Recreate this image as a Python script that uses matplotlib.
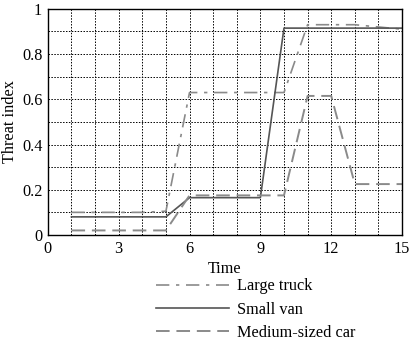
import matplotlib.pyplot as plt

plt.rcParams['font.family'] = ['Liberation Serif', 'DejaVu Serif']

time = list(range(1, 16))
large_truck = [0.10, 0.10, 0.10, 0.10, 0.105, 0.63, 0.63, 0.63, 0.63, 0.63, 0.93, 0.93, 0.93, 0.92, 0.91]
small_van = [0.08, 0.08, 0.08, 0.08, 0.08, 0.165, 0.165, 0.165, 0.165, 0.915, 0.915, 0.915, 0.915, 0.915, 0.915]
medium_car = [0.02, 0.02, 0.02, 0.02, 0.02, 0.175, 0.175, 0.175, 0.175, 0.175, 0.615, 0.615, 0.225, 0.225, 0.225]

fig = plt.figure(figsize=(4.09, 3.42), dpi=100)
ax = fig.add_axes([0.117, 0.313, 0.866, 0.661])

ax.plot(time, large_truck, color='#8a8a8a', lw=1.2, dashes=(8, 4, 2, 4), label='Large truck')
ax.plot(time, small_van, color='#555555', lw=1.2, label='Small van')
ax.plot(time, medium_car, color='#8a8a8a', lw=1.4, dashes=(7, 3.5), label='Medium-sized car')

ax.set_xlim(0, 15)
ax.set_ylim(0, 1)
ax.set_xticks(range(0, 16, 3))
ax.set_yticks([0, 0.2, 0.4, 0.6, 0.8, 1])
ax.set_yticklabels(['0', '0.2', '0.4', '0.6', '0.8', '1'])
ax.set_xticks(range(0, 16), minor=True)
ax.set_yticks([i / 10 for i in range(11)], minor=True)
ax.tick_params(which='both', length=0, labelsize=11.7, pad=4)
ax.grid(True, which='both', color='black', linestyle=(0, (1.5, 1.5)), linewidth=0.7)
for s in ax.spines.values():
    s.set_linewidth(1.0)

ax.set_xlabel('Time', fontsize=11.7, labelpad=3)
ax.set_ylabel('Threat index', fontsize=11.7, labelpad=3)

fig.legend(loc='upper left', bbox_to_anchor=(0.362, 0.21), frameon=False,
           fontsize=11.7, handlelength=4.5, handletextpad=0.45, labelspacing=0.45,
           borderpad=0)

fig.savefig('out.png', dpi=100)
